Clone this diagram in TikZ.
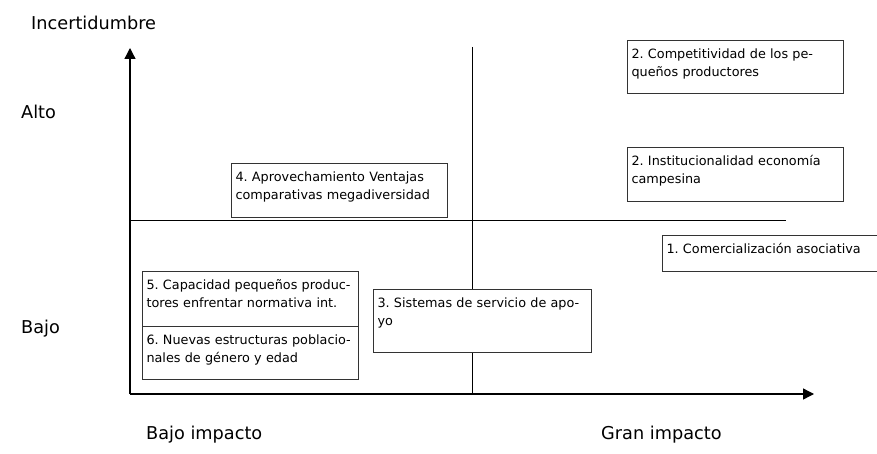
\documentclass[tikz,border=0pt]{standalone}
\usepackage{fontspec}
\setmainfont{DejaVu Sans}
\usepackage{tikz}
\usetikzlibrary{arrows.meta}
\definecolor{BoxGray}{HTML}{333333}
\frenchspacing

\begin{document}
\begin{tikzpicture}[x=1pt,y=-1pt,
    cell/.style={draw=BoxGray,line width=1pt,anchor=north west,inner xsep=4pt,inner ysep=5pt,
      text width=208pt,align=left,text height=13pt,font=\fontsize{12.8}{18}\selectfont},
    axislabel/.style={anchor=base west,inner sep=0pt,font=\fontsize{17.7}{20}\selectfont},
    axis/.style={line width=1.3pt,-{Triangle[length=11pt,width=11pt]}}]
    \useasboundingbox (0,0) rectangle (877,454);

    \coordinate (O) at (130,394);
    \coordinate (Ytip) at (130,48);
    \coordinate (Xtip) at (814,394);
    \coordinate (Vtop) at (472,47);
    \coordinate (Vbot) at (472,394);
    \coordinate (Hleft) at (130,221);
    \coordinate (Hright) at (786,221);

    \draw[line width=1pt] (Vtop) -- (Vbot);
    \draw[line width=1pt] (Hleft) -- (Hright);
    \draw[axis] (O) -- (Ytip);
    \draw[axis] (O) -- (Xtip);

    \node[axislabel] (incertidumbre) at (31,30) {Incertidumbre};
    \node[axislabel] (alto) at (21,119) {Alto};
    \node[axislabel] (bajo) at (21,333) {Bajo};
    \node[axislabel] (bajoimpacto) at (146,439) {Bajo impacto};
    \node[axislabel] (granimpacto) at (601,439) {Gran impacto};

    \node[cell,text depth=30pt,fill=white] (competitividad) at (627,40)
      {2. Competitividad de los pe-\\queños productores};
    \node[cell,text depth=31pt,fill=white] (institucionalidad) at (627,147)
      {2. Institucionalidad economía\\campesina};
    \node[cell,text depth=31pt,fill=white] (ventajas) at (231,163)
      {4. Aprovechamiento Ventajas\\comparativas megadiversidad};
    \node[cell,text depth=13pt,fill=white] (comercializacion) at (662,235)
      {1. Comercialización asociativa};
    \node[cell,text depth=40pt,text width=210pt,fill=white] (sistemas) at (373,289)
      {3. Sistemas de servicio de apo-\\yo};
    \node[cell,text depth=32pt,fill=white] (capacidad) at (142,271)
      {5. Capacidad pequeños produc-\\tores enfrentar normativa int.};
    \node[cell,text depth=30pt,fill=white] (estructuras) at (142,326)
      {6. Nuevas estructuras poblacio-\\nales de género y edad};
   \end{tikzpicture}
\end{document}
